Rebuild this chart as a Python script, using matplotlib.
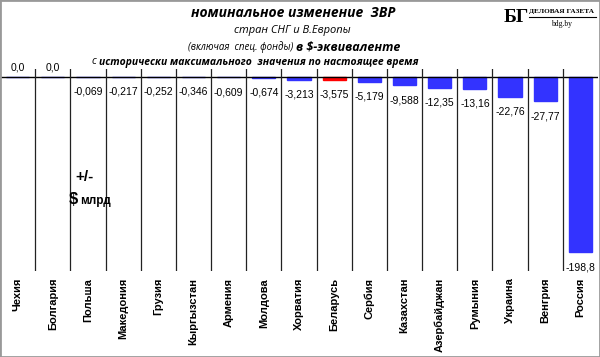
import numpy as np
import matplotlib.pyplot as plt
from matplotlib.patches import Rectangle

countries = ['Чехия', 'Болгария', 'Польша', 'Македония', 'Грузия', 'Кыргызстан',
             'Армения', 'Молдова', 'Хорватия', 'Беларусь', 'Сербия', 'Казахстан',
             'Азербайджан', 'Румыния', 'Украина', 'Венгрия', 'Россия']
values = [0.0, 0.0, -0.069, -0.217, -0.252, -0.346, -0.609, -0.674, -3.213,
          -3.575, -5.179, -9.588, -12.35, -13.16, -22.76, -27.77, -198.8]
value_labels = ['0,0', '0,0', '-0,069', '-0,217', '-0,252', '-0,346', '-0,609',
                '-0,674', '-3,213', '-3,575', '-5,179', '-9,588', '-12,35',
                '-13,16', '-22,76', '-27,77', '-198,8']
highlight = 'Беларусь'

W, H = 600, 357
fig = plt.figure(figsize=(6, 3.57), dpi=100)

def fx(px):
    return px / W

def fy(py):
    return 1 - py / H

# plot area: zero line at y=77px, bottom at 271px
ax = fig.add_axes([fx(0), fy(271), fx(598), (271 - 69) / H])
ax.set_ylim(-220, 9)
ax.set_xlim(-0.5, len(countries) - 0.5)

x = np.arange(len(countries))
colors = ['#ff0000' if c == highlight else '#3333ff' for c in countries]
ax.bar(x, values, width=0.66, color=colors, edgecolor=colors, linewidth=1)
ax.axhline(0, color='black', lw=1)

for i in range(len(countries) - 1):
    ax.axvline(i + 0.5, color='#222222', lw=0.9)

for xi, v, lab in zip(x, values, value_labels):
    if v >= 0:
        ax.annotate(lab, (xi, v), xytext=(0, 3), textcoords='offset points',
                    ha='center', va='bottom', fontsize=7.5, family='Liberation Sans')
    else:
        ax.annotate(lab, (xi, v), xytext=(0, -7), textcoords='offset points',
                    ha='center', va='top', fontsize=7.5, family='Liberation Sans')

ax.set_xticks(x)
ax.set_xticklabels(countries, rotation=90, va='top', fontsize=8,
                   fontweight='bold', family='Liberation Sans')
ax.tick_params(axis='x', length=0, pad=5)
ax.set_yticks([])
for s in ax.spines.values():
    s.set_visible(False)

# title
tf = 'Open Sans'
fig.text(fx(293), fy(13), 'номинальное изменение  ЗВР', ha='center', va='center',
         fontsize=10, fontweight='bold', style='italic', family=tf)
fig.text(fx(292), fy(31), 'стран СНГ и В.Европы', ha='center', va='center',
         fontsize=8, style='italic', family=tf)
fig.text(fx(293), fy(47), '(включая  спец. фонды)', ha='right', va='center',
         fontsize=7, style='italic', family=tf)
fig.text(fx(296), fy(47), 'в $-эквиваленте', ha='left', va='center',
         fontsize=9, fontweight='bold', style='italic', family=tf)
fig.text(fx(91), fy(62), 'с', ha='left', va='center',
         fontsize=7.5, style='italic', family=tf)
fig.text(fx(99), fy(62), 'исторически максимального  значения по настоящее время',
         ha='left', va='center', fontsize=7.5, fontweight='bold', style='italic', family=tf)

# units
fig.text(fx(84), fy(177), '+/-', ha='center', va='center', fontsize=11,
         fontweight='bold', family='Liberation Sans')
fig.text(fx(73), fy(200), '$', ha='center', va='center', fontsize=12,
         fontweight='bold', family='Liberation Sans')
fig.text(fx(80), fy(201), 'млрд', ha='left', va='center', fontsize=8.5,
         fontweight='bold', family='Liberation Sans')

# logo
fig.text(fx(504), fy(17), 'БГ', ha='left', va='center', fontsize=14,
         fontweight='bold', family='Liberation Serif')
fig.text(fx(529), fy(12), 'ДЕЛОВАЯ ГАЗЕТА', ha='left', va='center', fontsize=5.2,
         fontweight='bold', family='Liberation Serif')
fig.add_artist(plt.Line2D([fx(529), fx(596)], [fy(17), fy(17)], color='black', lw=0.8))
fig.text(fx(562), fy(24), 'bdg.by', ha='center', va='center', fontsize=5.5,
         family='Liberation Serif')

fig.add_artist(Rectangle((0, 0), 1, 1, transform=fig.transFigure, fill=False,
                         edgecolor='#999999', lw=2))

fig.savefig('out.png', dpi=100)
